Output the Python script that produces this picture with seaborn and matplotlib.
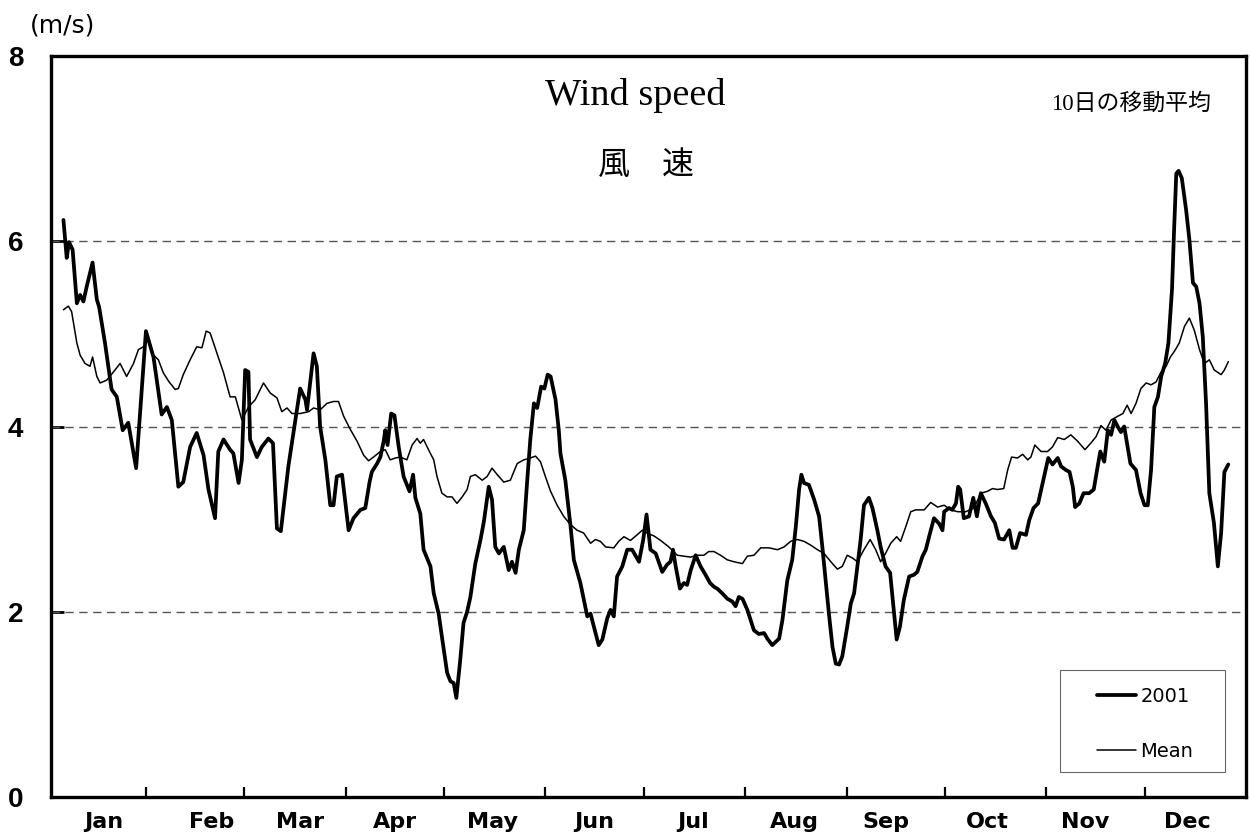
import numpy as np
import pandas as pd
import matplotlib
matplotlib.use("Agg")
import matplotlib.pyplot as plt
from matplotlib.lines import Line2D
from matplotlib.patches import Rectangle
import seaborn as sns

# ---------------- data ----------------
months = ["Jan", "Feb", "Mar", "Apr", "May", "Jun", "Jul", "Aug", "Sep", "Oct", "Nov", "Dec"]
month_mid_days = [16, 49, 76, 105, 135, 166, 196, 227, 255, 286, 316, 347]
month_end_days = [29, 59, 90, 120, 151, 181, 212, 243, 273, 304, 334]
y_ticks = [0, 2, 4, 6, 8]

days_2001 = [3.8, 4.8, 5.5, 6.6, 7.9, 8.9, 9.9, 10.9, 12.7, 14.0, 14.7, 16.5, 18.5, 20.1, 21.9, 23.6,
             26.0, 27.2, 29.0, 31.3, 32.3, 33.8, 35.4, 36.9, 38.9, 40.4, 42.5, 44.5, 46.6, 48.1, 50.1,
             51.1, 52.7, 54.7, 55.7, 57.3, 58.3, 59.3, 60.3, 60.8, 62.9, 64.4, 66.4, 67.8, 69.0, 70.2,
             72.5, 76.1, 77.7, 78.2, 80.2, 81.2, 82.2, 83.8, 85.3, 86.3, 87.3, 88.9, 90.9, 92.4, 94.5,
             96.0, 97.3, 98.0, 99.6, 100.6, 101.6, 102.1, 102.8, 103.9, 104.9, 106.2, 107.7, 109.5,
             110.6, 111.3, 112.8, 113.8, 115.9, 116.9, 118.4, 119.4, 121.0, 122.0, 123.0, 123.8, 125.0,
             126.0, 127.1, 128.1, 129.6, 131.2, 132.2, 133.7, 134.7, 135.7, 136.8, 138.3, 139.8, 140.8,
             141.9, 142.9, 144.4, 145.4, 146.4, 147.5, 148.5, 149.7, 150.7, 151.7, 152.6, 154.1, 155.1,
             155.6, 157.1, 158.7, 159.7, 161.7, 163.8, 164.8, 165.8, 167.3, 168.4, 169.9, 170.9, 171.9,
             172.9, 174.5, 176.0, 177.5, 179.6, 180.9, 181.9, 183.1, 184.7, 186.7, 188.2, 189.2, 190.0,
             190.8, 192.1, 193.3, 194.3, 195.4, 196.9, 198.4, 199.9, 201.3, 202.5, 203.5, 205.0, 206.6,
             208.1, 209.1, 210.1, 211.2, 212.7, 213.7, 214.7, 216.2, 217.8, 218.8, 220.3, 222.4, 223.4,
             224.9, 226.4, 227.5, 228.5, 229.2, 230.0, 231.5, 233.1, 234.6, 235.6, 236.6, 237.6, 238.7,
             239.7, 240.7, 241.7, 243.2, 244.3, 245.3, 246.3, 247.3, 248.3, 249.8, 250.9, 252.4, 253.4,
             254.9, 256.3, 257.3, 258.3, 259.3, 260.5, 262.1, 263.6, 264.6, 266.2, 267.2, 268.2, 269.7,
             271.3, 272.3, 272.8, 274.3, 275.3, 276.4, 277.1, 277.7, 278.8, 280.4, 281.7, 282.8, 284.0,
             285.5, 287.1, 288.3, 289.6, 291.1, 292.7, 293.7, 294.7, 296.0, 297.8, 298.8, 300.1, 301.5,
             302.9, 304.6, 305.9, 307.5, 308.5, 310.0, 311.1, 312.1, 312.8, 314.1, 315.4, 317.1, 318.5,
             319.5, 320.5, 321.7, 322.8, 323.8, 324.8, 325.8, 326.8, 327.8, 329.7, 331.4, 332.8, 334.0,
             335.0, 336.0, 337.0, 338.1, 339.1, 340.3, 341.3, 342.4, 343.0, 343.7, 344.4, 345.4, 346.7,
             347.7, 348.8, 349.8, 350.8, 351.8, 352.8, 353.8, 355.2, 356.4, 357.4, 358.4, 359.6]
speed_2001 = [6.23, 5.82, 5.99, 5.91, 5.33, 5.42, 5.35, 5.51, 5.77, 5.37, 5.29, 4.90, 4.40, 4.32, 3.96, 4.04,
              3.55, 4.14, 5.03, 4.75, 4.50, 4.13, 4.21, 4.07, 3.35, 3.40, 3.78, 3.93, 3.69, 3.32, 3.01,
              3.73, 3.86, 3.75, 3.71, 3.39, 3.64, 4.61, 4.59, 3.86, 3.67, 3.78, 3.87, 3.82, 2.90, 2.87,
              3.57, 4.41, 4.29, 4.18, 4.79, 4.65, 4.00, 3.64, 3.15, 3.15, 3.46, 3.48, 2.88, 3.01, 3.10,
              3.12, 3.40, 3.51, 3.60, 3.67, 3.84, 3.96, 3.80, 4.14, 4.12, 3.78, 3.46, 3.30,
              3.48, 3.23, 3.06, 2.67, 2.49, 2.20, 1.98, 1.73, 1.34, 1.25, 1.23, 1.07, 1.48,
              1.88, 2.00, 2.16, 2.52, 2.78, 2.97, 3.35, 3.21, 2.70, 2.63, 2.70, 2.45, 2.54,
              2.42, 2.67, 2.88, 3.39, 3.86, 4.25, 4.20, 4.43, 4.41, 4.56, 4.54, 4.29, 3.96,
              3.71, 3.42, 2.92, 2.56, 2.31, 1.95, 1.98, 1.84, 1.64, 1.70, 1.93, 2.02, 1.95,
              2.38, 2.49, 2.67, 2.67, 2.54, 2.78, 3.05, 2.67, 2.63, 2.43, 2.51, 2.54, 2.67,
              2.49, 2.25, 2.31, 2.29, 2.45, 2.61, 2.49, 2.40, 2.31, 2.27, 2.25, 2.20, 2.14,
              2.11, 2.06, 2.16, 2.14, 2.02, 1.91, 1.80, 1.76, 1.77, 1.71, 1.64, 1.71, 1.91,
              2.34, 2.56, 2.92, 3.32, 3.48, 3.39, 3.37, 3.21, 3.03, 2.70, 2.34, 1.98, 1.62,
              1.44, 1.43, 1.52, 1.84, 2.09, 2.20, 2.49, 2.78, 3.15, 3.23, 3.12, 2.88, 2.70,
              2.49, 2.42, 2.06, 1.70, 1.84, 2.13, 2.38, 2.40, 2.43, 2.60, 2.67, 2.81, 3.01,
              2.95, 2.88, 3.08, 3.12, 3.10, 3.17, 3.35, 3.32, 3.01, 3.03, 3.23, 3.03, 3.28,
              3.17, 3.03, 2.96, 2.79, 2.78, 2.88, 2.69, 2.69, 2.85, 2.83, 2.99, 3.12, 3.17,
              3.39, 3.66, 3.59, 3.66, 3.57, 3.53, 3.51, 3.35, 3.13, 3.17, 3.28, 3.28, 3.32,
              3.53, 3.73, 3.62, 3.96, 3.91, 4.07, 4.00, 3.94, 4.00, 3.60, 3.53, 3.28, 3.15,
              3.15, 3.53, 4.21, 4.32, 4.54, 4.68, 4.90, 5.48, 6.09, 6.73, 6.76, 6.68, 6.34,
              6.02, 5.55, 5.51, 5.33, 4.97, 4.25, 3.28, 2.96, 2.49, 2.85, 3.51, 3.59]

days_mean = [3.8, 5.3, 6.3, 7.9, 8.9, 10.4, 11.9, 12.7, 14.0, 15.0, 17.0, 19.1, 21.1, 23.1, 25.2, 26.7,
             28.2, 29.7, 30.8, 32.8, 34.3, 35.9, 37.9, 38.9, 40.4, 42.5, 44.5, 46.1, 47.4, 48.6, 50.7,
             52.7, 54.7, 56.3, 58.3, 60.3, 62.4, 64.9, 67.0, 69.0, 70.5, 72.1, 73.6, 76.1, 78.7, 80.2,
             82.2, 84.3, 86.3, 87.8, 89.4, 91.4, 93.5, 95.5, 97.0, 98.5, 100.6, 102.1, 103.6, 105.2,
             106.7, 108.7, 110.3, 111.8, 112.8, 113.8, 115.3, 116.9, 117.9, 119.4, 121.0, 122.5, 124.0,
             125.6, 127.1, 128.1, 129.6, 131.7, 133.2, 134.7, 136.3, 138.3, 140.3, 142.4, 144.4, 146.4,
             148.0, 149.5, 151.0, 152.6, 154.6, 156.6, 158.7, 160.7, 162.7, 164.8, 166.3, 167.8, 169.4,
             171.9, 173.4, 175.0, 177.0, 179.0, 180.6, 182.6, 184.1, 186.2, 188.7, 191.3, 193.3, 195.4,
             197.4, 199.4, 200.9, 202.5, 204.5, 206.6, 208.6, 211.2, 212.7, 214.7, 216.8, 219.3, 221.9,
             223.9, 225.9, 228.0, 230.0, 232.0, 234.1, 236.1, 238.2, 240.2, 241.7, 243.2, 244.8, 246.3,
             248.3, 250.2, 251.9, 253.4, 254.9, 256.5, 258.3, 259.5, 261.1, 262.6, 264.1, 266.7, 268.7,
             270.8, 272.8, 274.8, 276.9, 279.4, 281.9, 284.0, 286.0, 287.6, 289.1, 291.0, 292.2, 293.4,
             295.2, 296.8, 298.3, 299.3, 300.5, 302.4, 304.4, 305.9, 307.5, 309.5, 311.5, 313.6, 315.8,
             317.6, 319.2, 320.7, 322.2, 323.8, 325.8, 327.4, 328.7, 329.9, 331.4, 332.9, 334.5, 336.0,
             337.5, 339.1, 340.6, 341.9, 343.1, 344.6, 346.2, 347.7, 349.2, 350.8, 352.3, 353.8, 355.3,
             357.4, 358.4, 359.6]
speed_mean = [5.26, 5.30, 5.24, 4.90, 4.77, 4.68, 4.65, 4.75, 4.54, 4.47, 4.50, 4.59, 4.68, 4.54, 4.68, 4.83,
              4.86, 4.94, 4.79, 4.72, 4.58, 4.49, 4.40, 4.41, 4.56, 4.72, 4.86, 4.85, 5.03, 5.01, 4.79,
              4.58, 4.32, 4.32, 4.07, 4.21, 4.29, 4.47, 4.36, 4.31, 4.16, 4.20, 4.14, 4.14, 4.16, 4.20,
              4.18, 4.25, 4.27, 4.27, 4.11, 3.97, 3.84, 3.69, 3.63, 3.67, 3.73, 3.75, 3.64, 3.66,
              3.67, 3.64, 3.80, 3.87, 3.82, 3.86, 3.75, 3.64, 3.46, 3.28, 3.24, 3.24, 3.17,
              3.24, 3.32, 3.46, 3.48, 3.42, 3.46, 3.55, 3.48, 3.40, 3.42, 3.60, 3.64, 3.66,
              3.68, 3.62, 3.46, 3.30, 3.15, 3.03, 2.94, 2.88, 2.85, 2.74, 2.78, 2.76, 2.70,
              2.69, 2.76, 2.81, 2.77, 2.83, 2.88, 2.84, 2.82, 2.77, 2.70, 2.61, 2.60, 2.59,
              2.61, 2.61, 2.65, 2.65, 2.61, 2.56, 2.54, 2.52, 2.60, 2.61, 2.69, 2.69, 2.67,
              2.70, 2.76, 2.78, 2.76, 2.72, 2.67, 2.63, 2.54, 2.46, 2.49, 2.61, 2.58, 2.54,
              2.67, 2.78, 2.67, 2.54, 2.63, 2.74, 2.81, 2.76, 2.92, 3.08, 3.10, 3.10, 3.18,
              3.13, 3.15, 3.10, 3.08, 3.08, 3.12, 3.28, 3.30, 3.33, 3.32, 3.33, 3.53, 3.67,
              3.66, 3.70, 3.64, 3.67, 3.80, 3.73, 3.73, 3.78, 3.88, 3.86, 3.91, 3.84, 3.75,
              3.82, 3.89, 4.01, 3.96, 4.07, 4.11, 4.14, 4.23, 4.14, 4.25, 4.41, 4.47, 4.45,
              4.48, 4.59, 4.65, 4.75, 4.81, 4.90, 5.08, 5.17, 5.04, 4.83, 4.68, 4.72, 4.61,
              4.56, 4.61, 4.70]

series_names = ["2001", "Mean"]
series_widths = {"2001": 2.7, "Mean": 1.1}

df = pd.concat([
    pd.DataFrame({"day": days_2001, "speed": speed_2001, "series": "2001"}),
    pd.DataFrame({"day": days_mean, "speed": speed_mean, "series": "Mean"}),
], ignore_index=True)

# ---------------- style ----------------
sns.set_theme(style="white")
plt.rcParams["font.family"] = ["DejaVu Sans", "Noto Sans CJK JP"]
plt.rcParams["text.color"] = "black"
plt.rcParams["xtick.color"] = "black"
plt.rcParams["ytick.color"] = "black"
plt.rcParams["xtick.labelcolor"] = "black"
plt.rcParams["ytick.labelcolor"] = "black"

fig = plt.figure(figsize=(12.5, 8.38), dpi=100)
ax = fig.add_axes([0.0408, 0.0489, 0.9560, 0.8843])

for y in [2, 4, 6]:
    ax.axhline(y, color="#555555", lw=1.0, ls=(0, (6, 4)), zorder=1)

sns.lineplot(data=df, x="day", y="speed", hue="series", size="series",
             sizes=series_widths,
             palette={"2001": "black", "Mean": "black"},
             sort=False, estimator=None, ax=ax, zorder=3, legend=False)

ax.set_xlim(0, 365)
ax.set_ylim(0, 8)
ax.set_xlabel("")
ax.set_ylabel("")

for sp in ax.spines.values():
    sp.set_visible(True)
    sp.set_color("black")
    sp.set_linewidth(2.4)

ax.set_yticks(y_ticks)
ax.set_yticklabels([str(v) for v in y_ticks], fontsize=20, fontweight="bold",
                   family="Liberation Sans")
ax.tick_params(axis="y", direction="in", length=9, width=2, color="black", pad=20,
               left=True)

ax.set_xticks(month_end_days)
ax.set_xticklabels([])
ax.tick_params(axis="x", which="major", direction="in", length=7, width=1.6,
               color="black", bottom=True)
ax.set_xticks(month_mid_days, minor=True)
ax.set_xticklabels(months, minor=True, fontsize=16, fontweight="bold")
ax.tick_params(axis="x", which="minor", length=0, pad=11, bottom=True)

# texts
fig.text(0.050, 0.969, "(m/s)", fontsize=18, ha="center", va="center")
fig.text(0.508, 0.886, "Wind speed", fontsize=27.5, ha="center", va="center",
         family="Liberation Serif")
fig.text(0.517, 0.803, "風\u3000速", fontsize=23, ha="center", va="center",
         family=["Noto Sans CJK JP", "DejaVu Sans"])
fig.text(0.905, 0.876, "10日の移動平均", fontsize=16.5, ha="center", va="center",
         family=["Liberation Serif", "Noto Sans CJK JP"])

# legend
handles = [Line2D([], [], color="black", lw=series_widths[s]) for s in series_names]
leg = ax.legend(handles, series_names, loc="upper left",
                bbox_to_anchor=(0.875, 0.149), fontsize=14, frameon=False,
                handlelength=2.0, handletextpad=0.25, labelspacing=1.85,
                borderpad=0, borderaxespad=0)
leg.set_zorder(5)
ax.add_patch(Rectangle((0.8444, 0.0337), 0.1380, 0.1377, transform=ax.transAxes,
                       fill=False, edgecolor="#666666", lw=0.8, zorder=5))

fig.savefig("out.png", dpi=100)
